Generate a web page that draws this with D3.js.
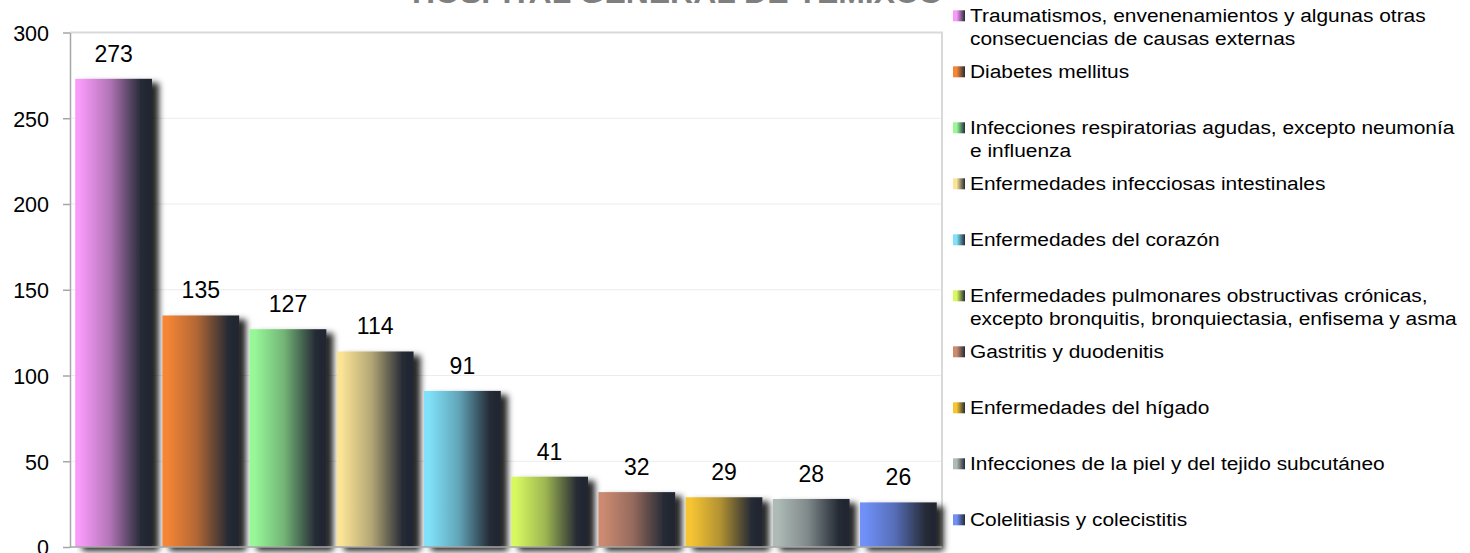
<!DOCTYPE html>
<html>
<head>
<meta charset="utf-8">
<script src="https://cdn.jsdelivr.net/npm/d3@7"></script>
<style>
  html, body { margin: 0; padding: 0; background: #fff; }
  svg { display: block; font-family: Arial, "Liberation Sans", sans-serif; }
</style>
</head>
<body>
<svg id="chart" width="1470" height="553"></svg>
<script>
const title = "HOSPITAL GENERAL DE TEMIXCO";
const categories = [
  "Traumatismos, envenenamientos y algunas otras\nconsecuencias de causas externas",
  "Diabetes mellitus",
  "Infecciones respiratorias agudas, excepto neumonía\ne influenza",
  "Enfermedades infecciosas intestinales",
  "Enfermedades del corazón",
  "Enfermedades pulmonares obstructivas crónicas,\nexcepto bronquitis, bronquiectasia, enfisema y asma",
  "Gastritis y duodenitis",
  "Enfermedades del hígado",
  "Infecciones de la piel y del tejido subcutáneo",
  "Colelitiasis y colecistitis"
];
const values = [273, 135, 127, 114, 91, 41, 32, 29, 28, 26];
const colors = ["#f99af9", "#f68535", "#98f898", "#fbe496", "#80e2fa",
                "#d8f860", "#cc8a70", "#f8c530", "#adbab5", "#7090f8"];
const yTicks = [0, 50, 100, 150, 200, 250, 300];
const darkEnd = "#252a35";

(function () {
const svg = d3.select("#chart");
const defs = svg.append("defs");

// gradients
colors.forEach((c, i) => {
  const g = defs.append("linearGradient").attr("id", "grad" + i)
    .attr("x1", "0%").attr("x2", "100%").attr("y1", "0%").attr("y2", "0%");
  g.append("stop").attr("offset", "0%").attr("stop-color", c);
  g.append("stop").attr("offset", "6%").attr("stop-color", c);
  g.append("stop").attr("offset", "45%").attr("stop-color", d3.interpolateRgb(c, darkEnd)(0.33));
  g.append("stop").attr("offset", "86%").attr("stop-color", darkEnd);
  g.append("stop").attr("offset", "100%").attr("stop-color", "#22262f");
});

const f = defs.append("filter").attr("id", "shadow")
  .attr("x", "-20%").attr("y", "-20%").attr("width", "150%").attr("height", "150%");
f.append("feDropShadow").attr("dx", 7).attr("dy", 4).attr("stdDeviation", 3)
  .attr("flood-color", "#000").attr("flood-opacity", 0.85);

const pLeft = 70, pRight = 942, pTop = 32.5, pBottom = 547;

const x = d3.scaleBand().domain(d3.range(values.length))
  .range([pLeft, pRight]).paddingInner(0.12).paddingOuter(0.06);
const y = d3.scaleLinear().domain([0, 300]).range([pBottom, pTop]);

// gridlines
svg.append("g").selectAll("line").data(yTicks.filter(t => t > 0 && t < 300)).join("line")
  .attr("x1", pLeft).attr("x2", pRight)
  .attr("y1", d => y(d)).attr("y2", d => y(d))
  .attr("stroke", "#ececec").attr("stroke-width", 1);

// plot border top & right
svg.append("line").attr("x1", pLeft).attr("x2", pRight + 1)
  .attr("y1", y(300)).attr("y2", y(300))
  .attr("stroke", "#d9d9d9").attr("stroke-width", 2);
svg.append("line").attr("x1", pRight).attr("x2", pRight)
  .attr("y1", y(300)).attr("y2", pBottom)
  .attr("stroke", "#d9d9d9").attr("stroke-width", 2);

// bars
svg.append("g").selectAll("rect").data(values).join("rect")
  .attr("x", (d, i) => x(i))
  .attr("y", d => y(d))
  .attr("width", x.bandwidth())
  .attr("height", d => pBottom - y(d))
  .attr("fill", (d, i) => `url(#grad${i})`)
  .attr("filter", "url(#shadow)");

// value labels
svg.append("g").selectAll("text").data(values).join("text")
  .attr("x", (d, i) => x(i) + x.bandwidth() / 2)
  .attr("y", d => y(d) - 17)
  .attr("text-anchor", "middle")
  .attr("font-size", "23px")
  .attr("fill", "#000")
  .text(d => d);

// y axis
const yAxis = d3.axisLeft(y).tickValues(yTicks).tickSize(7).tickSizeOuter(0).tickPadding(14);
const ga = svg.append("g").attr("transform", `translate(${pLeft},0)`).call(yAxis);
ga.select(".domain").attr("stroke", "#a6a6a6").attr("stroke-width", 1.5);
ga.selectAll(".tick line").attr("stroke", "#a6a6a6").attr("stroke-width", 1.5);
ga.selectAll(".tick text").attr("font-size", "21.5px").attr("fill", "#000")
  .attr("font-family", "Arial, 'Liberation Sans', sans-serif").attr("dy", "0.36em");

// x axis line
svg.append("line").attr("x1", pLeft).attr("x2", pRight)
  .attr("y1", pBottom).attr("y2", pBottom)
  .attr("stroke", "#a6a6a6").attr("stroke-width", 1.5);

// title (partially cut off at top)
svg.append("text")
  .attr("x", 412).attr("y", 3)
  .attr("font-size", "29px").attr("font-weight", "bold")
  .attr("fill", "#7f7f7f")
  .attr("textLength", 531).attr("lengthAdjust", "spacingAndGlyphs")
  .text(title);

// legend
const lg = svg.append("g");
categories.forEach((cat, i) => {
  const base = 22 + 56 * i;
  const lgGrad = defs.append("linearGradient").attr("id", "lgrad" + i)
    .attr("x1", "0%").attr("x2", "100%");
  lgGrad.append("stop").attr("offset", "0%").attr("stop-color", colors[i]);
  lgGrad.append("stop").attr("offset", "30%").attr("stop-color", colors[i]);
  lgGrad.append("stop").attr("offset", "100%").attr("stop-color", darkEnd);
  lg.append("rect").attr("x", 953).attr("y", base - 11.7)
    .attr("width", 12).attr("height", 11).attr("fill", `url(#lgrad${i})`);
  const t = lg.append("text")
    .attr("transform", `translate(970,${base}) scale(1.1,1)`)
    .attr("font-size", "19px").attr("fill", "#000");
  cat.split("\n").forEach((line, k) => {
    t.append("tspan").attr("x", 0).attr("y", k * 23.5).text(line);
  });
});
})();
</script>
</body>
</html>
